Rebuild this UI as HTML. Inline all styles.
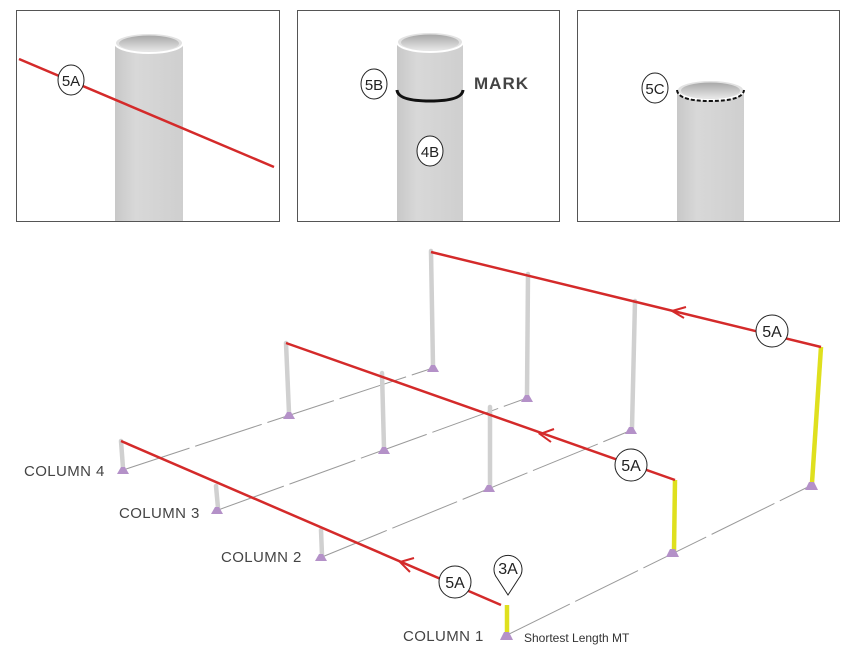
<!DOCTYPE html>
<html><head><meta charset="utf-8"><style>
body{margin:0;background:#fff}
svg{display:block}
text{font-family:"Liberation Sans",sans-serif}
</style></head><body>
<svg width="863" height="652" viewBox="0 0 863 652" xmlns="http://www.w3.org/2000/svg">
<defs>
<linearGradient id="pg" x1="0" x2="1"><stop offset="0" stop-color="#c8c8c8"/><stop offset="0.3" stop-color="#d8d8d8"/><stop offset="1" stop-color="#cfcfcf"/></linearGradient>
<linearGradient id="ig" x1="0" y1="0" x2="0" y2="1"><stop offset="0" stop-color="#a8a8a8"/><stop offset="1" stop-color="#e8e8e8"/></linearGradient>
<clipPath id="c1"><rect x="17" y="10" width="263" height="211"/></clipPath>
<clipPath id="c2"><rect x="298" y="10" width="261" height="211"/></clipPath>
<clipPath id="c3"><rect x="578" y="10" width="261" height="211"/></clipPath>
</defs>
<!-- panel 1 -->
<g clip-path="url(#c1)">
<rect x="115" y="43" width="68" height="180" fill="url(#pg)"/>
<ellipse cx="149" cy="43" rx="34" ry="10" fill="#e2e2e2" stroke="#fff" stroke-width="2"/>
<ellipse cx="149" cy="43.5" rx="30" ry="8" fill="url(#ig)"/>
<line x1="19" y1="59" x2="274" y2="167" stroke="#d42a2a" stroke-width="2.5"/>
</g>
<rect x="16.5" y="10.5" width="263" height="211" fill="none" stroke="#555"/>
<ellipse cx="71" cy="80" rx="13" ry="15" fill="#fff" stroke="#222"/>
<text x="71" y="86" font-size="15" text-anchor="middle" fill="#222">5A</text>
<!-- panel 2 -->
<g clip-path="url(#c2)">
<rect x="397" y="42" width="66" height="180" fill="url(#pg)"/>
<ellipse cx="430" cy="42" rx="33" ry="10" fill="#e2e2e2" stroke="#fff" stroke-width="2"/>
<ellipse cx="430" cy="42.5" rx="29" ry="8" fill="url(#ig)"/>
<path d="M397 90 Q398 101 430 101 Q462 101 463 90" fill="none" stroke="#111" stroke-width="3"/>
</g>
<rect x="297.5" y="10.5" width="262" height="211" fill="none" stroke="#555"/>
<ellipse cx="374" cy="84" rx="13" ry="15" fill="#fff" stroke="#222"/>
<text x="374" y="90" font-size="15" text-anchor="middle" fill="#222">5B</text>
<ellipse cx="430" cy="151" rx="13" ry="15" fill="#fff" stroke="#222"/>
<text x="430" y="157" font-size="15" text-anchor="middle" fill="#222">4B</text>
<text x="474" y="89" font-size="17" font-weight="bold" fill="#444" letter-spacing="1">MARK</text>
<!-- panel 3 -->
<g clip-path="url(#c3)">
<rect x="677" y="90" width="67" height="135" fill="url(#pg)"/>
<ellipse cx="710.5" cy="90" rx="33.5" ry="10" fill="#e2e2e2" stroke="#fff" stroke-width="2"/>
<ellipse cx="710.5" cy="90.5" rx="29.5" ry="8" fill="url(#ig)"/>
<path d="M677 90 Q678 101 710 101 Q743 101 744 90" fill="none" stroke="#111" stroke-width="2" stroke-dasharray="4 2"/>
</g>
<rect x="577.5" y="10.5" width="262" height="211" fill="none" stroke="#555"/>
<ellipse cx="655" cy="88" rx="13" ry="15" fill="#fff" stroke="#222"/>
<text x="655" y="94" font-size="15" text-anchor="middle" fill="#222">5C</text>

<!-- base lines -->
<g stroke="#9a9a9a" stroke-width="1" fill="none" stroke-dasharray="70 6">
<line x1="123" y1="470" x2="433" y2="368"/>
<line x1="218" y1="510" x2="527" y2="398"/>
<line x1="322" y1="557" x2="632" y2="430"/>
<line x1="507" y1="635" x2="812" y2="485"/>
</g>
<!-- gray posts -->
<g stroke="#d0d0d0" stroke-width="4.5" stroke-linecap="round">
<line x1="121" y1="441" x2="123" y2="468"/>
<line x1="286" y1="343" x2="289" y2="413"/>
<line x1="431" y1="251" x2="433" y2="366"/>
<line x1="216" y1="486" x2="218" y2="508"/>
<line x1="382" y1="373" x2="384" y2="448"/>
<line x1="528" y1="274" x2="527" y2="396"/>
<line x1="321" y1="530" x2="322" y2="555"/>
<line x1="490" y1="407" x2="490" y2="486"/>
<line x1="635" y1="301" x2="632" y2="428"/>
</g>
<!-- yellow posts -->
<g stroke="#dfe01e" stroke-width="4.5">
<line x1="507" y1="605" x2="507" y2="633"/>
<line x1="675" y1="480" x2="674" y2="551"/>
<line x1="821" y1="347" x2="812" y2="483"/>
</g>
<!-- feet -->
<g fill="#b491c8">
<path d="M117 474 l4 -7 h4 l4 7 z"/>
<path d="M283 419 l4 -7 h4 l4 7 z"/>
<path d="M427 372 l4 -7 h4 l4 7 z"/>
<path d="M211 514 l4 -7 h4 l4 7 z"/>
<path d="M378 454 l4 -7 h4 l4 7 z"/>
<path d="M521 402 l4 -7 h4 l4 7 z"/>
<path d="M315 561 l4 -7 h4 l4 7 z"/>
<path d="M483 492 l4 -7 h4 l4 7 z"/>
<path d="M625 434 l4 -7 h4 l4 7 z"/>
<path d="M500 640 l4 -8 h5 l4 8 z"/>
<path d="M666 557 l4 -8 h5 l4 8 z"/>
<path d="M805 490 l4 -8 h5 l4 8 z"/>
</g>
<!-- red lines -->
<g stroke="#d42a2a" stroke-width="2.5" fill="none">
<line x1="121" y1="441" x2="501" y2="605"/>
<line x1="286" y1="343" x2="675" y2="480"/>
<line x1="431" y1="252" x2="821" y2="347"/>
<path d="M414 558 L400 562 L410 572" stroke-width="2"/>
<path d="M554 429 L540 434 L551 442" stroke-width="2"/>
<path d="M686 307 L672 311 L684 318" stroke-width="2"/>
</g>
<!-- labels -->
<g fill="#fff" stroke="#222">
<circle cx="455" cy="582" r="16"/>
<circle cx="631" cy="465" r="16"/>
<circle cx="772" cy="331" r="16"/>
<path d="M508 595 L497 578 A14 14 0 1 1 519 578 Z"/>
</g>
<g font-size="16" fill="#222" text-anchor="middle">
<text x="455" y="588">5A</text>
<text x="631" y="471">5A</text>
<text x="772" y="337">5A</text>
<text x="508" y="574">3A</text>
</g>
<g font-size="15" fill="#444" letter-spacing="0.4">
<text x="24" y="476">COLUMN 4</text>
<text x="119" y="518">COLUMN 3</text>
<text x="221" y="562">COLUMN 2</text>
<text x="403" y="641">COLUMN 1</text>
<text x="524" y="642" font-size="12" fill="#333" letter-spacing="0">Shortest Length MT</text>
</g>
</svg>
</body></html>
